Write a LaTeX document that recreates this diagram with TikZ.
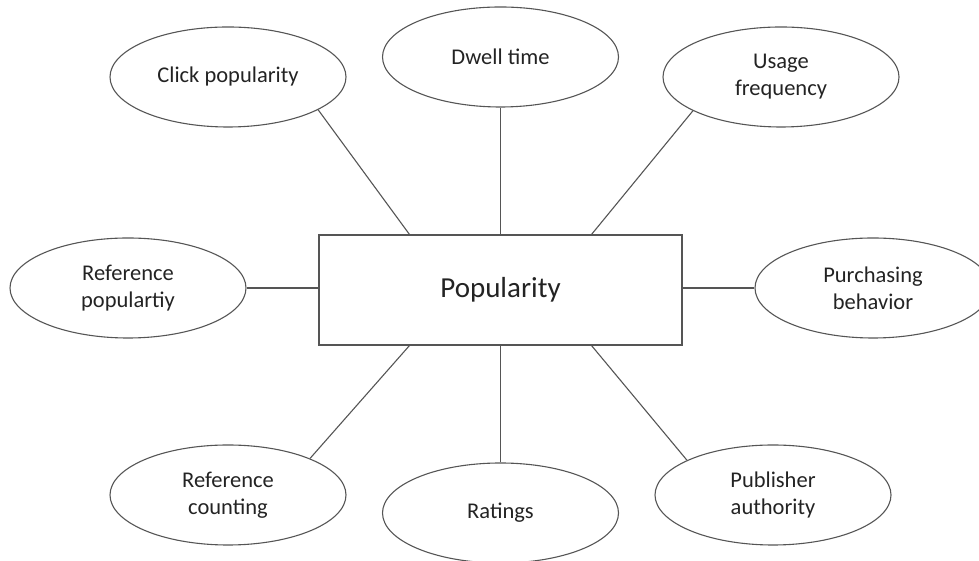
\documentclass[tikz,border=0pt]{standalone}
\usepackage{fontspec}
\setmainfont{Carlito}
\usetikzlibrary{shapes.geometric,calc}
\definecolor{edgegray}{RGB}{85,85,85}
\definecolor{textgray}{RGB}{35,35,35}
\tikzset{
  factor/.style={ellipse, draw=edgegray, line width=1.1pt, minimum width=236pt,
    minimum height=100pt, inner sep=0pt, align=center, text=textgray,
    font=\fontsize{22.5}{27}\selectfont},
  hub/.style={rectangle, draw=edgegray, line width=1.1pt, minimum width=363pt,
    minimum height=110pt, inner sep=0pt, text=textgray,
    font=\fontsize{29}{34}\selectfont},
  link/.style={draw=edgegray, line width=1.1pt}
}
\begin{document}
\begin{tikzpicture}[x=1pt,y=1pt]
\useasboundingbox (0,0) rectangle (979,561);
\clip (0,0) rectangle (979,561);
% central concept
\node[hub] (pop) at (500.5,271) {Popularity};
% surrounding factors
\node[factor] (click) at (228,484) {Click popularity};
\node[factor] (dwell) at (500.5,504) {Dwell time};
\node[factor] (usage) at (781,484) {Usage\\frequency};
\node[factor] (refpop) at (128,273) {Reference\\populartiy};
\node[factor] (purch) at (873,273) {Purchasing\\behavior};
\node[factor] (refcnt) at (228,66) {Reference\\counting};
\node[factor] (rate) at (500.5,48) {Ratings};
\node[factor] (publ) at (773,66) {Publisher\\authority};
% attachment points on the box
\coordinate (topL) at ($(pop.north west)!0.25!(pop.north east)$);
\coordinate (topR) at ($(pop.north west)!0.75!(pop.north east)$);
\coordinate (botL) at ($(pop.south west)!0.25!(pop.south east)$);
\coordinate (botR) at ($(pop.south west)!0.75!(pop.south east)$);
% connectors
\draw[link] (click.-20) -- (topL);
\draw[link] (dwell.south) -- (dwell.south |- pop.north);
\draw[link] (usage.201) -- (topR);
\draw[link] (refpop.east) -- (refpop.east -| pop.west);
\draw[link] (purch.west) -- (purch.west -| pop.east);
\draw[link] (refcnt.24) -- (botL);
\draw[link] (rate.north) -- (rate.north |- pop.south);
\draw[link] (publ.158) -- (botR);
\end{tikzpicture}
\end{document}
